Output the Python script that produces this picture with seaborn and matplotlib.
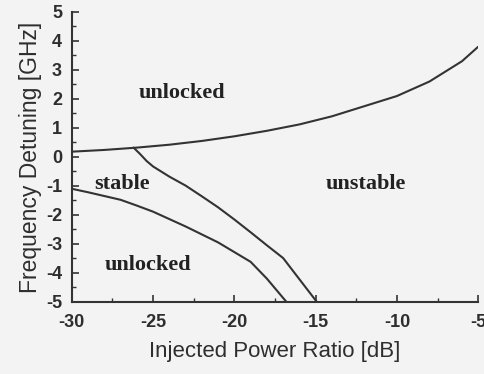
import matplotlib
matplotlib.use("Agg")
import matplotlib.pyplot as plt
from matplotlib.ticker import MultipleLocator
import seaborn as sns
import pandas as pd

sns.set_theme(style="ticks")
plt.rcParams["font.family"] = ["Liberation Sans", "DejaVu Sans"]
plt.rcParams["axes.unicode_minus"] = False

# upper boundary: locked / unlocked (positive detuning)
upper_x = [-30, -28, -26, -24, -22, -20, -18, -16, -14, -12, -10, -8, -6, -5]
upper_y = [0.18, 0.24, 0.32, 0.42, 0.55, 0.71, 0.9, 1.12, 1.4, 1.75, 2.1, 2.6, 3.3, 3.8]

# lower boundary: locked / unlocked (negative detuning)
lower_x = [-30, -29, -28, -27, -26, -25, -23, -21, -19, -18, -17.4, -16.8]
lower_y = [-1.1, -1.22, -1.35, -1.48, -1.68, -1.89, -2.4, -2.95, -3.62, -4.2, -4.6, -5.0]

# stable / unstable boundary
stab_x = [-26.2, -25.8, -25.4, -25.0, -24, -23, -22, -21, -20, -19, -18, -17, -16, -14.93]
stab_y = [0.32, 0.1, -0.14, -0.33, -0.68, -0.99, -1.36, -1.74, -2.16, -2.6, -3.05, -3.49, -4.22, -5.0]

region_labels = ["unlocked", "stable", "unstable", "unlocked"]
region_x = [-23.2, -26.9, -11.9, -25.3]
region_y = [2.2, -0.95, -0.95, -3.72]

curves = pd.concat([
    pd.DataFrame({"power": upper_x, "detuning": upper_y, "curve": "upper"}),
    pd.DataFrame({"power": lower_x, "detuning": lower_y, "curve": "lower"}),
    pd.DataFrame({"power": stab_x, "detuning": stab_y, "curve": "stability"}),
])

bg = "#f3f3f3"
ink = "#333333"

fig = plt.figure(figsize=(4.85, 3.74), dpi=100, facecolor=bg)
ax = fig.add_axes([0.148, 0.193, 0.838, 0.775], facecolor=bg)

for name, grp in curves.groupby("curve", sort=False):
    sns.lineplot(data=grp, x="power", y="detuning", ax=ax, color=ink,
                 linewidth=1.5, sort=False, estimator=None)

for lab, lx, ly in zip(region_labels, region_x, region_y):
    ax.text(lx, ly, lab, ha="center", va="center", fontsize=16,
            fontweight="bold", color="#222222", family=["Liberation Serif"])

ax.set_xlim(-30, -5)
ax.set_ylim(-5, 5)
ax.xaxis.set_major_locator(MultipleLocator(5))
ax.xaxis.set_minor_locator(MultipleLocator(2.5))
ax.yaxis.set_major_locator(MultipleLocator(1))
ax.yaxis.set_minor_locator(MultipleLocator(0.5))
ax.tick_params(which="major", direction="in", length=5, width=1.2, colors=ink,
               labelsize=13)
ax.tick_params(axis="x", which="major", pad=9)
ax.tick_params(axis="y", which="major", pad=7)
ax.tick_params(which="minor", direction="in", length=3, width=1.0, colors=ink)
for lbl in ax.get_xticklabels() + ax.get_yticklabels():
    lbl.set_fontweight("bold")
    lbl.set_color("#2e2e2e")

sns.despine(ax=ax)
for side in ["left", "bottom"]:
    ax.spines[side].set_linewidth(1.5)
    ax.spines[side].set_color(ink)

ax.set_xlabel("Injected Power Ratio [dB]", fontsize=16, color="#2e2e2e", labelpad=7)
ax.set_ylabel("Frequency Detuning [GHz]", fontsize=16.5, color="#2e2e2e", labelpad=3)

fig.savefig("out.png", dpi=100, facecolor=bg)
